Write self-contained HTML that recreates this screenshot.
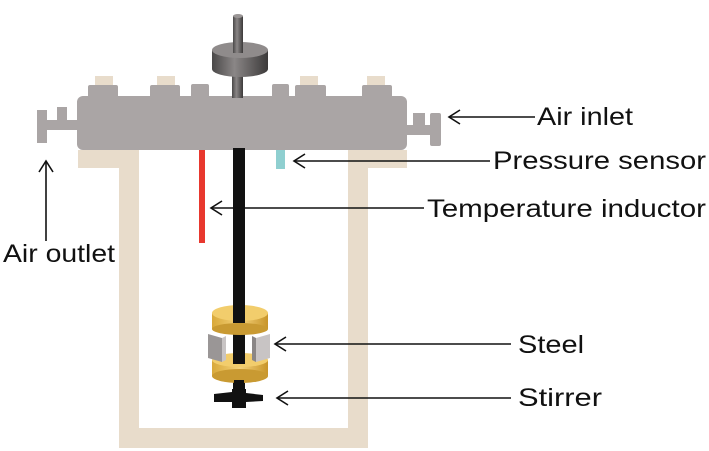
<!DOCTYPE html>
<html><head><meta charset="utf-8"><style>html,body{margin:0;padding:0;background:#fff;}svg{display:block}</style></head>
<body>
<svg width="709" height="451" viewBox="0 0 709 451" xmlns="http://www.w3.org/2000/svg">
<defs>
<linearGradient id="cyl" x1="0" x2="1"><stop offset="0" stop-color="#4a4848"/><stop offset="0.4" stop-color="#8a8686"/><stop offset="1" stop-color="#3c3a3a"/></linearGradient>
<linearGradient id="gold" x1="0" x2="1"><stop offset="0" stop-color="#d9a93a"/><stop offset="0.5" stop-color="#f4d27a"/><stop offset="1" stop-color="#c8952a"/></linearGradient>
</defs>
<g fill="#e8dccb">
<rect x="119" y="150" width="20" height="298"/>
<rect x="348" y="150" width="20" height="298"/>
<rect x="119" y="428" width="249" height="20"/>
<rect x="78" y="150" width="61" height="18"/>
<rect x="348" y="150" width="59" height="18"/>
<rect x="95" y="76" width="18" height="10"/>
<rect x="157" y="76" width="18" height="10"/>
<rect x="300" y="76" width="18" height="10"/>
<rect x="367" y="76" width="18" height="10"/>
</g>
<g fill="#aaa5a5">
<rect x="77" y="96" width="330" height="54" rx="6"/>
<rect x="88" y="85" width="30" height="14" rx="2"/>
<rect x="150" y="85" width="30" height="14" rx="2"/>
<rect x="191" y="84" width="18" height="14" rx="2"/>
<rect x="272" y="84" width="17" height="14" rx="2"/>
<rect x="295" y="85" width="31" height="14" rx="2"/>
<rect x="362" y="85" width="30" height="14" rx="2"/>
<rect x="37" y="110" width="10" height="33"/>
<rect x="57" y="107" width="10" height="15"/>
<rect x="47" y="120" width="32" height="10"/>
<rect x="430" y="113" width="11" height="33" rx="2"/>
<rect x="413" y="113" width="12" height="14"/>
<rect x="405" y="125" width="26" height="10"/>
</g>
<rect x="232" y="74" width="11" height="24" fill="url(#cyl)"/>
<path d="M212 50 L212 69 A28 8 0 0 0 268 69 L268 50 Z" fill="url(#cyl)"/>
<ellipse cx="240" cy="50" rx="28" ry="8" fill="#8f8b8b"/>
<rect x="233" y="16" width="10" height="37" fill="url(#cyl)"/>
<ellipse cx="238" cy="16" rx="5" ry="2" fill="#9a9696"/>
<rect x="199" y="150" width="6" height="93" fill="#e8382e"/>
<rect x="276" y="150" width="9" height="19" fill="#8fcfd0"/>
<rect x="233" y="148" width="12" height="242" fill="#111"/>
<rect x="212" y="313" width="56" height="16" fill="url(#gold)"/>
<ellipse cx="240" cy="313" rx="28" ry="8" fill="#f2cd6c"/>
<ellipse cx="240" cy="329" rx="28" ry="6" fill="#c99a32"/>
<rect x="233" y="305" width="12" height="18" fill="#111"/>
<rect x="212" y="360" width="56" height="16" fill="url(#gold)"/>
<ellipse cx="240" cy="360" rx="28" ry="7" fill="#f2cd6c"/>
<ellipse cx="240" cy="376" rx="28" ry="7" fill="#c99a32"/>
<rect x="233" y="336" width="12" height="28" fill="#111"/>
<path d="M208 334 L222 338 L222 362 L208 358 Z" fill="#9a9696"/>
<path d="M222 338 L226 336 L226 360 L222 362 Z" fill="#c8c4c4"/>
<path d="M256 338 L270 334 L270 358 L256 362 Z" fill="#c8c4c4"/>
<path d="M252 336 L256 338 L256 362 L252 360 Z" fill="#8a8686"/>
<rect x="234" y="380" width="10" height="12" fill="#111"/>
<path d="M214 394 L232 392 L232 389 L246 389 L246 393 L263 395 L263 401 L246 402 L246 408 L232 408 L232 402 L214 402 Z" fill="#111"/>
<g stroke="#111" stroke-width="1.6" fill="none">
<line x1="449" y1="117" x2="535" y2="117"/><path d="M460 110 L449 117 L460 124"/>
<line x1="294" y1="161" x2="490" y2="161"/><path d="M305 154 L294 161 L305 168"/>
<line x1="211" y1="208" x2="424" y2="208"/><path d="M222 201 L211 208 L222 215"/>
<line x1="275" y1="344" x2="511" y2="344"/><path d="M286 337 L275 344 L286 351"/>
<line x1="277" y1="398" x2="511" y2="398"/><path d="M288 391 L277 398 L288 405"/>
<line x1="46" y1="161" x2="46" y2="241"/><path d="M39 172 L46 161 L53 172"/>
</g>
<g font-family="Liberation Sans, Arial, sans-serif" font-size="25" fill="#111">
<text x="537" y="125" textLength="96" lengthAdjust="spacingAndGlyphs">Air inlet</text>
<text x="493" y="169" textLength="213" lengthAdjust="spacingAndGlyphs">Pressure sensor</text>
<text x="427" y="217" textLength="279" lengthAdjust="spacingAndGlyphs">Temperature inductor</text>
<text x="3" y="262" textLength="112" lengthAdjust="spacingAndGlyphs">Air outlet</text>
<text x="518" y="353" textLength="66" lengthAdjust="spacingAndGlyphs">Steel</text>
<text x="518" y="406" textLength="84" lengthAdjust="spacingAndGlyphs">Stirrer</text>
</g>
</svg>
</body></html>
